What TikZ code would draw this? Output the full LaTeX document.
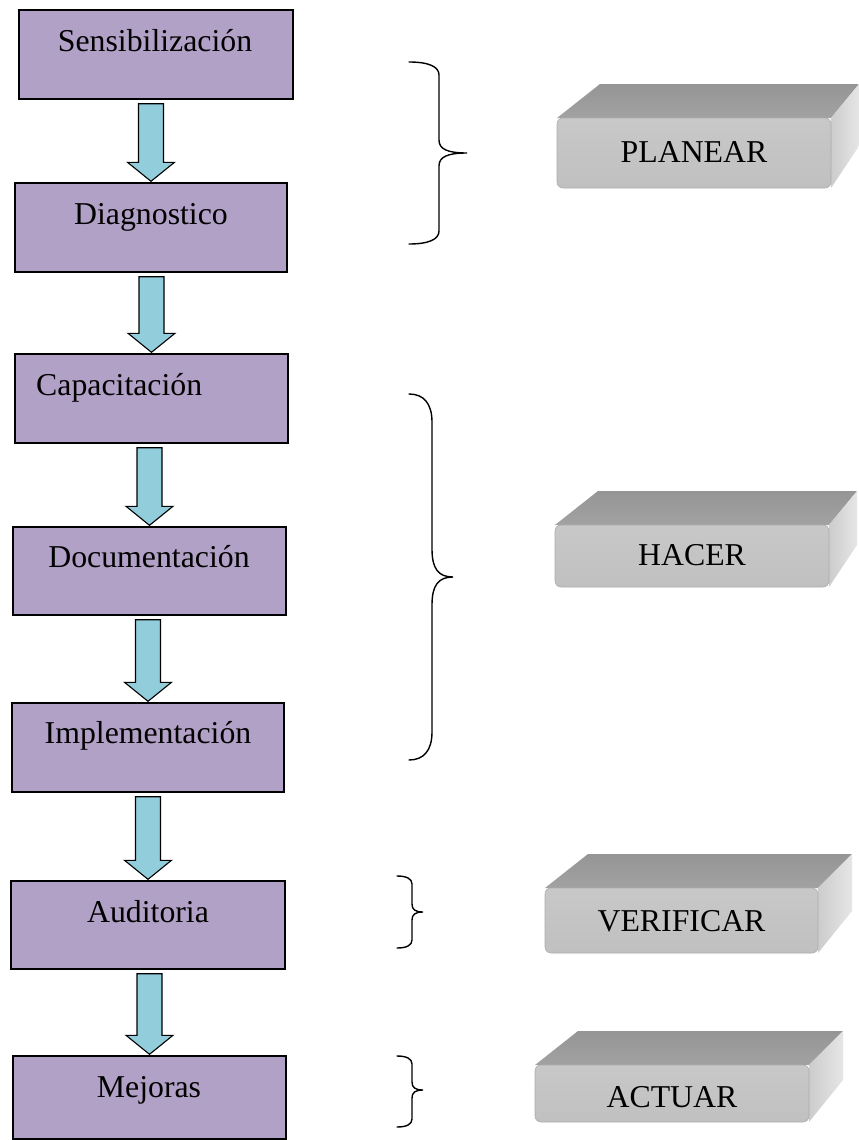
\documentclass[tikz,border=0pt]{standalone}
\usepackage{fontspec}
\setmainfont{Liberation Serif}
\usetikzlibrary{calc}

\definecolor{stepfill}{HTML}{B2A1C7}
\definecolor{arrowfill}{HTML}{92CDDC}
\definecolor{faceFront}{HTML}{C8C8C8}
\definecolor{faceFrontLow}{HTML}{C0C0C0}
\definecolor{faceTopBack}{HTML}{959595}
\definecolor{faceTopFront}{HTML}{A2A2A2}
\definecolor{faceSideL}{HTML}{CCCCCC}
\definecolor{faceSideR}{HTML}{E6E6E6}

\tikzset{
  stepbox/.style={draw=black, line width=1.4pt, fill=stepfill, inner sep=0pt},
  steptext/.style={font=\fontsize{31.8}{38}\selectfont, inner sep=0pt, anchor=base},
  blockarrow/.style={draw=black, line width=1.1pt, fill=arrowfill, line join=miter},
  bracestroke/.style={draw=black, line width=1.4pt, line cap=round},
  frontface/.style={shade, top color=faceFront, bottom color=faceFrontLow,
                    draw=faceFrontLow!90!black, line width=0.6pt,
                    rounded corners=6pt, inner sep=0pt},
}

% block arrow from the bottom of one step to the top of the next
\newcommand\flowarrow[2]{%
  \draw[blockarrow] let \p1=(#1.south), \p2=(#2.north) in
    (\x2-12.5pt,\y1-4pt) -- (\x2+12.5pt,\y1-4pt) -- (\x2+12.5pt,\y2+20pt)
    -- (\x2+23.5pt,\y2+20pt) -- (\x2,\y2+1pt) -- (\x2-23.5pt,\y2+20pt)
    -- (\x2-12.5pt,\y2+20pt) -- cycle;}

% right curly brace: x end, x spine, x tip, y top, y tip, y bottom, radius
\newcommand\curlybrace[7]{%
  \draw[bracestroke] (#1,#4)
    .. controls ({#2-0.35*(#2-#1)},#4) and (#2,{#4+0.35*#7}) .. (#2,{#4+#7})
    -- (#2,{#5-#7})
    .. controls (#2,{#5-0.3*#7}) and ({#2+0.3*(#3-#2)},#5) .. (#3,#5)
    .. controls ({#2+0.3*(#3-#2)},#5) and (#2,{#5+0.3*#7}) .. (#2,{#5+#7})
    -- (#2,{#6-#7})
    .. controls (#2,{#6-0.35*#7}) and ({#2-0.35*(#2-#1)},#6) .. (#1,#6);}

% bevelled phase block: name, x0, y0, x1, y1, right depth, label, baseline
\newcommand\phaseblock[8]{%
  \shade[bottom color=faceTopFront, top color=faceTopBack]
    (#2,#3) -- ({#2+43},{#3-34}) -- ({#4+#6},{#3-34}) -- (#4,#3) -- cycle;
  \shade[left color=faceSideL, right color=faceSideR]
    (#4,#3) -- ({#4+#6},{#3-34}) -- ({#4+#6},{#5-42}) -- (#4,#5) -- cycle;
  \node[frontface, minimum width={(#4-#2)*1pt}, minimum height={(#5-#3)*1pt}]
    (#1) at ({(#2+#4)/2},{(#3+#5)/2}) {};
  \node[steptext] (#1-label) at ({(#2+#4)/2},#8) {#7};}

\begin{document}
\begin{tikzpicture}[x=1pt,y=-1pt]
  \useasboundingbox (0,0) rectangle (859,1140);
  \fill[white] (0,0) rectangle (859,1140);
  \clip (0,0) rectangle (859,1140);

  % process steps
  \node[stepbox, minimum width=274pt, minimum height=89pt] (sens) at (156,54.5) {};
  \node[stepbox, minimum width=272pt, minimum height=89pt] (diag) at (151,227.5) {};
  \node[stepbox, minimum width=273pt, minimum height=89pt] (capa) at (151.5,398.5) {};
  \node[stepbox, minimum width=273pt, minimum height=88pt] (docu) at (149.5,571) {};
  \node[stepbox, minimum width=272pt, minimum height=89pt] (impl) at (148,747.5) {};
  \node[stepbox, minimum width=274pt, minimum height=88pt] (audi) at (148,925) {};
  \node[stepbox, minimum width=273pt, minimum height=83pt] (mejo) at (149.5,1097.5) {};

  \node[steptext] (sens-t) at (155,52) {Sensibilización};
  \node[steptext] (diag-t) at (151,224) {Diagnostico};
  \node[steptext, anchor=base west] (capa-t) at (36,395) {Capacitación};
  \node[steptext] (docu-t) at (149,567) {Documentación};
  \node[steptext] (impl-t) at (148,743) {Implementación};
  \node[steptext] (audi-t) at (148,922) {Auditoria};
  \node[steptext] (mejo-t) at (149,1097) {Mejoras};

  % arrows between steps
  \flowarrow{sens}{diag}
  \flowarrow{diag}{capa}
  \flowarrow{capa}{docu}
  \flowarrow{docu}{impl}
  \flowarrow{impl}{audi}
  \flowarrow{audi}{mejo}

  % braces grouping the steps
  \curlybrace{409}{439}{467}{62}{153}{244}{13}
  \curlybrace{409}{432}{453}{394}{577}{760}{28}
  \curlybrace{397}{412}{423}{876}{912}{948}{8}
  \curlybrace{397}{412}{423}{1056}{1090}{1127}{8}

  % PDCA phases
  \phaseblock{plan}{557}{118}{831}{188}{28}{PLANEAR}{162}
  \phaseblock{hacer}{555}{525}{829}{587}{28}{HACER}{565}
  \phaseblock{verif}{545}{888}{818}{953}{34}{VERIFICAR}{931}
  \phaseblock{actuar}{535}{1065}{809}{1122}{34}{ACTUAR}{1107}
\end{tikzpicture}
\end{document}
